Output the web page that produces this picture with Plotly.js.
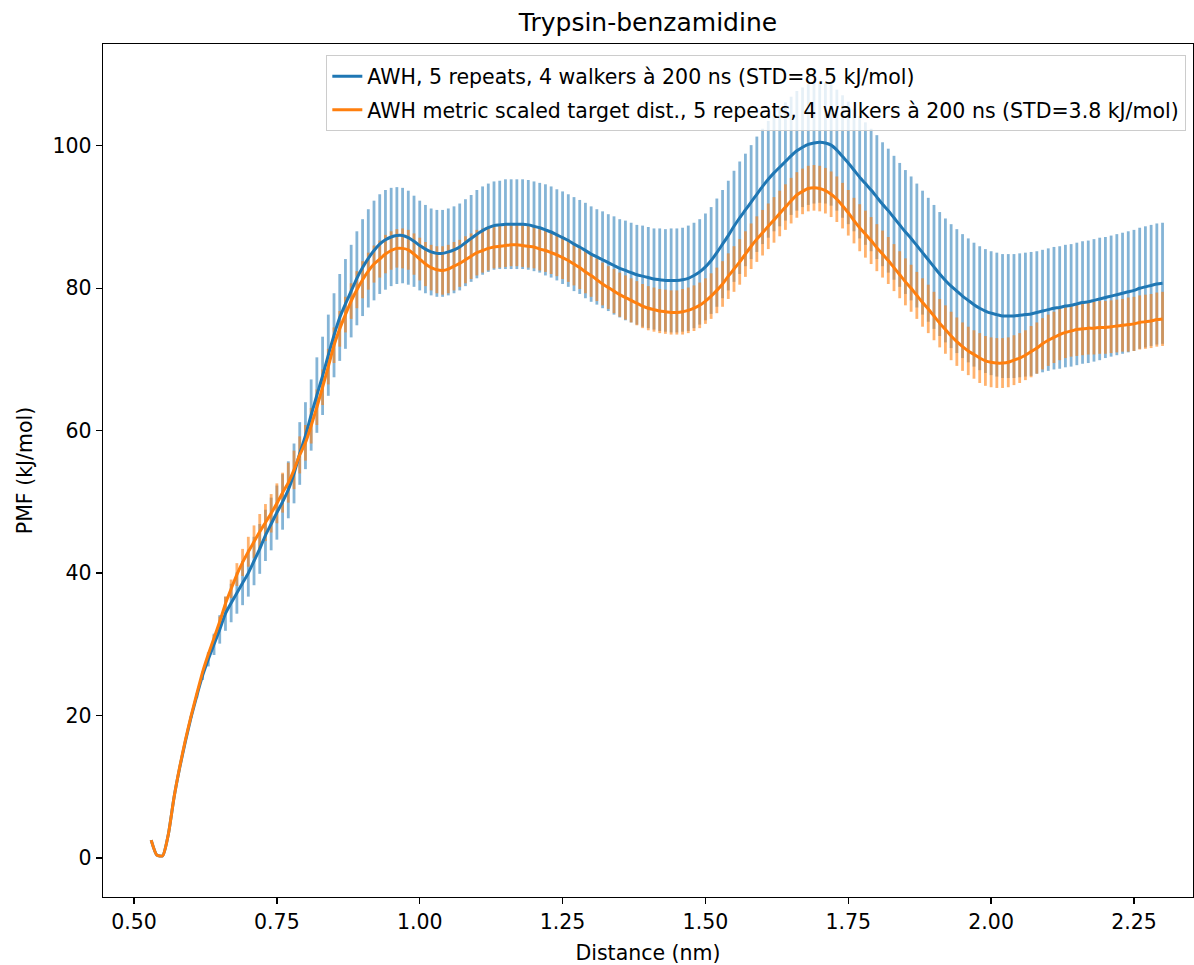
<!DOCTYPE html>
<html>
<head>
<meta charset="utf-8">
<script src="https://cdn.plot.ly/plotly-3.0.1.min.js"></script>
<style>html,body{margin:0;padding:0;background:#fff;}#chart{width:1194px;height:965px;}</style>
</head>
<body>
<div id="chart"></div>
<script>
// Distance (nm)
const distance = [
0.53,0.54,0.55,0.56,0.57,0.58,0.59,0.60,0.61,0.62,
0.63,0.64,0.65,0.66,0.67,0.68,0.69,0.70,0.71,0.72,
0.73,0.74,0.75,0.76,0.77,0.78,0.79,0.80,0.81,0.82,
0.83,0.84,0.85,0.86,0.87,0.88,0.89,0.90,0.91,0.92,
0.93,0.94,0.95,0.96,0.97,0.98,0.99,1.00,1.01,1.02,
1.03,1.04,1.05,1.06,1.07,1.08,1.09,1.10,1.11,1.12,
1.13,1.14,1.15,1.16,1.17,1.18,1.19,1.20,1.21,1.22,
1.23,1.24,1.25,1.26,1.27,1.28,1.29,1.30,1.31,1.32,
1.33,1.34,1.35,1.36,1.37,1.38,1.39,1.40,1.41,1.42,
1.43,1.44,1.45,1.46,1.47,1.48,1.49,1.50,1.51,1.52,
1.53,1.54,1.55,1.56,1.57,1.58,1.59,1.60,1.61,1.62,
1.63,1.64,1.65,1.66,1.67,1.68,1.69,1.70,1.71,1.72,
1.73,1.74,1.75,1.76,1.77,1.78,1.79,1.80,1.81,1.82,
1.83,1.84,1.85,1.86,1.87,1.88,1.89,1.90,1.91,1.92,
1.93,1.94,1.95,1.96,1.97,1.98,1.99,2.00,2.01,2.02,
2.03,2.04,2.05,2.06,2.07,2.08,2.09,2.10,2.11,2.12,
2.13,2.14,2.15,2.16,2.17,2.18,2.19,2.20,2.21,2.22,
2.23,2.24,2.25,2.26,2.27,2.28,2.29,2.30];

// PMF (kJ/mol), AWH 5 repeats
const pmfAWH = [
2.5,0.4,0.3,3.3,8.5,12.7,16.4,19.8,22.8,25.6,
27.9,30.0,32.1,34.3,35.8,37.2,38.6,40.0,41.7,43.4,
45.3,46.9,48.5,50.0,51.7,54.0,56.8,59.3,62.2,65.0,
67.7,70.6,73.4,75.9,77.8,79.6,81.4,82.9,84.2,85.3,
86.2,86.8,87.2,87.4,87.4,87.1,86.6,86.0,85.5,85.1,
84.9,84.9,85.1,85.4,85.8,86.4,87.0,87.6,88.1,88.5,
88.8,88.9,89.0,89.0,89.0,89.0,88.9,88.7,88.5,88.2,
87.9,87.5,87.1,86.7,86.2,85.8,85.3,84.8,84.4,84.0,
83.6,83.2,82.8,82.5,82.2,81.9,81.7,81.5,81.3,81.2,
81.1,81.1,81.1,81.2,81.4,81.8,82.3,83.0,83.9,85.0,
86.2,87.4,88.7,89.9,91.0,92.1,93.2,94.3,95.3,96.2,
97.0,97.8,98.6,99.3,99.8,100.2,100.4,100.5,100.4,100.1,
99.4,98.5,97.6,96.6,95.6,94.7,93.8,92.8,91.8,90.9,
89.9,88.9,87.9,87.0,86.0,85.0,84.0,83.0,82.0,81.1,
80.3,79.6,78.9,78.3,77.7,77.2,76.8,76.5,76.3,76.1,
76.1,76.1,76.2,76.3,76.4,76.6,76.8,77.0,77.2,77.3,
77.5,77.6,77.8,78.0,78.1,78.3,78.5,78.7,78.9,79.1,
79.3,79.5,79.7,80.0,80.2,80.4,80.6,80.7];

const errAWH = [
0,0,0,0,0,0,0,0.1,0.3,0.6,
1.0,1.5,2.0,2.4,2.7,2.9,3.1,3.3,3.4,3.5,
3.6,3.7,3.8,3.9,4.0,4.2,4.4,4.7,5.0,5.3,
5.5,5.7,5.9,6.1,6.3,6.5,6.6,6.8,6.9,7.0,
7.0,7.0,6.9,6.8,6.7,6.6,6.4,6.3,6.2,6.1,
6.1,6.1,6.1,6.1,6.1,6.1,6.1,6.2,6.2,6.2,
6.2,6.2,6.3,6.3,6.3,6.3,6.3,6.3,6.3,6.4,
6.4,6.4,6.5,6.5,6.6,6.6,6.7,6.7,6.7,6.8,
6.8,6.9,6.9,7.0,7.0,7.0,7.1,7.1,7.1,7.2,
7.2,7.3,7.3,7.3,7.4,7.4,7.4,7.5,7.5,7.6,
7.6,7.7,7.8,7.9,7.9,8.0,8.1,8.1,8.2,8.2,
8.3,8.3,8.3,8.4,8.4,8.5,8.5,8.5,8.5,8.5,
8.5,8.6,8.6,8.6,8.6,8.6,8.6,8.7,8.7,8.7,
8.7,8.7,8.7,8.7,8.7,8.7,8.7,8.7,8.7,8.7,
8.7,8.7,8.7,8.7,8.7,8.7,8.7,8.7,8.7,8.7,
8.7,8.7,8.7,8.7,8.7,8.6,8.6,8.6,8.6,8.6,
8.6,8.6,8.6,8.6,8.6,8.6,8.6,8.5,8.5,8.5,
8.5,8.5,8.5,8.5,8.5,8.5,8.5,8.5];

// PMF (kJ/mol), AWH metric scaled target distribution
const pmfMetric = [
2.5,0.4,0.3,3.3,8.5,12.8,16.6,20.0,23.1,26.1,
28.6,30.9,33.2,35.7,37.8,39.8,41.5,43.0,44.4,45.8,
47.1,48.4,49.8,51.3,52.7,54.5,56.6,58.3,60.7,63.3,
66.1,69.0,72.0,74.3,76.3,78.2,79.8,81.2,82.4,83.4,
84.1,84.8,85.3,85.6,85.6,85.4,84.8,84.1,83.4,82.9,
82.6,82.5,82.7,83.1,83.5,84.0,84.5,85.0,85.3,85.6,
85.8,85.9,86.0,86.1,86.1,86.0,85.9,85.8,85.5,85.3,
85.0,84.7,84.3,83.9,83.4,82.9,82.3,81.8,81.2,80.6,
80.1,79.6,79.1,78.7,78.3,77.9,77.5,77.2,77.0,76.8,
76.7,76.6,76.6,76.7,76.9,77.2,77.6,78.2,78.9,79.7,
80.6,81.7,82.7,83.7,84.8,85.9,86.9,87.8,88.7,89.6,
90.5,91.4,92.3,93.1,93.6,94.0,94.1,94.0,93.7,93.2,
92.5,91.6,90.6,89.5,88.5,87.6,86.7,85.7,84.8,83.9,
82.9,81.9,80.9,80.0,79.0,78.0,77.1,76.1,75.1,74.2,
73.3,72.5,71.8,71.2,70.7,70.2,69.8,69.6,69.5,69.5,
69.6,69.9,70.2,70.6,71.1,71.6,72.2,72.7,73.1,73.5,
73.8,74.0,74.2,74.3,74.4,74.4,74.5,74.5,74.6,74.7,
74.8,74.9,75.0,75.2,75.3,75.4,75.6,75.7];

const errMetric = [
0,0,0,0,0,0,0,0,0,0,
0.2,0.4,0.7,1.0,1.3,1.6,1.9,2.1,2.3,2.5,
2.6,2.7,2.8,2.8,2.8,2.7,2.6,2.5,2.5,2.5,
2.5,2.5,2.5,2.5,2.5,2.5,2.6,2.6,2.6,2.6,
2.6,2.7,2.7,2.7,2.8,2.8,2.9,3.0,3.1,3.2,
3.3,3.4,3.4,3.4,3.3,3.3,3.2,3.2,3.1,3.1,
3.0,3.0,3.0,3.0,3.0,3.0,3.0,3.0,3.0,3.0,
3.0,3.0,3.0,3.0,3.0,3.0,3.0,3.0,3.0,3.0,
3.0,3.1,3.1,3.1,3.1,3.1,3.1,3.1,3.1,3.1,
3.1,3.1,3.1,3.2,3.2,3.2,3.2,3.2,3.2,3.2,
3.2,3.2,3.2,3.2,3.2,3.2,3.2,3.2,3.2,3.2,
3.2,3.2,3.2,3.2,3.2,3.2,3.2,3.2,3.2,3.2,
3.2,3.2,3.2,3.2,3.3,3.3,3.3,3.3,3.3,3.3,
3.3,3.3,3.3,3.3,3.3,3.4,3.4,3.4,3.4,3.4,
3.4,3.4,3.4,3.4,3.4,3.5,3.5,3.5,3.5,3.5,
3.5,3.5,3.5,3.5,3.6,3.6,3.6,3.6,3.6,3.6,
3.6,3.6,3.7,3.7,3.7,3.7,3.7,3.7,3.7,3.7,
3.7,3.8,3.8,3.8,3.8,3.8,3.8,3.8];

const seriesNames = [
  "AWH, 5 repeats, 4 walkers à 200 ns (STD=8.5 kJ/mol)",
  "AWH metric scaled target dist., 5 repeats, 4 walkers à 200 ns (STD=3.8 kJ/mol)"
];
const xTicks = [0.5, 0.75, 1.0, 1.25, 1.5, 1.75, 2.0, 2.25];
const yTicks = [0, 20, 40, 60, 80, 100];

const BLUE = "#1f77b4", ORANGE = "#ff7f0e";
const FONT = "DejaVu Sans, Verdana, sans-serif";
const FS = 20.5;

function errTrace(y, err, color) {
  return {
    x: distance, y: y, type: "scatter", mode: "lines",
    line: {color: "rgba(0,0,0,0)", width: 0},
    error_y: {type: "data", array: err, visible: true, color: color, thickness: 2.8, width: 0},
    showlegend: false, hoverinfo: "skip"
  };
}

const traces = [
  errTrace(pmfAWH, errAWH, "rgba(31,119,180,0.55)"),
  errTrace(pmfMetric, errMetric, "rgba(255,127,14,0.6)"),
  {x: distance, y: pmfAWH, type: "scatter", mode: "lines", name: seriesNames[0],
   line: {color: BLUE, width: 3, shape: "spline", smoothing: 0.6}, legendgroup: "a"},
  {x: distance, y: pmfMetric, type: "scatter", mode: "lines", name: seriesNames[1],
   line: {color: ORANGE, width: 3, shape: "spline", smoothing: 0.6}, legendgroup: "b"}
];

const axisCommon = {
  showgrid: false, zeroline: false, showline: true, mirror: true,
  linecolor: "#000", linewidth: 1.3, ticks: "outside", ticklen: 6,
  tickwidth: 1.3, tickcolor: "#000",
  tickfont: {family: FONT, size: FS, color: "#000"}
};

const layout = {
  width: 1194, height: 965,
  margin: {l: 103, r: 1, t: 44, b: 68, pad: 0},
  paper_bgcolor: "#fff", plot_bgcolor: "#fff",
  font: {family: FONT, color: "#000"},
  title: {text: "Trypsin-benzamidine", x: 0.5, xref: "paper", xanchor: "center",
          y: 1 - 22/965, yref: "container", yanchor: "middle",
          font: {family: FONT, size: 25, color: "#000"}},
  xaxis: Object.assign({}, axisCommon, {
    range: [0.4457, 2.3533], tickvals: xTicks, tickformat: ".2f",
    title: {text: "Distance (nm)", font: {family: FONT, size: FS, color: "#000"}, standoff: 12}
  }),
  yaxis: Object.assign({}, axisCommon, {
    range: [-5.48, 114.3], tickvals: yTicks,
    title: {text: "PMF (kJ/mol)", font: {family: FONT, size: FS, color: "#000"}, standoff: 14}
  }),
  legend: {
    x: 0.9936, xanchor: "right", y: 0.987, yanchor: "top",
    bgcolor: "rgba(255,255,255,0.8)", bordercolor: "#cccccc", borderwidth: 1.3,
    font: {family: FONT, size: FS, color: "#000"},
    tracegroupgap: 4
  },
  showlegend: true
};

Plotly.newPlot("chart", traces, layout, {displayModeBar: false, staticPlot: true});
</script>
</body>
</html>
